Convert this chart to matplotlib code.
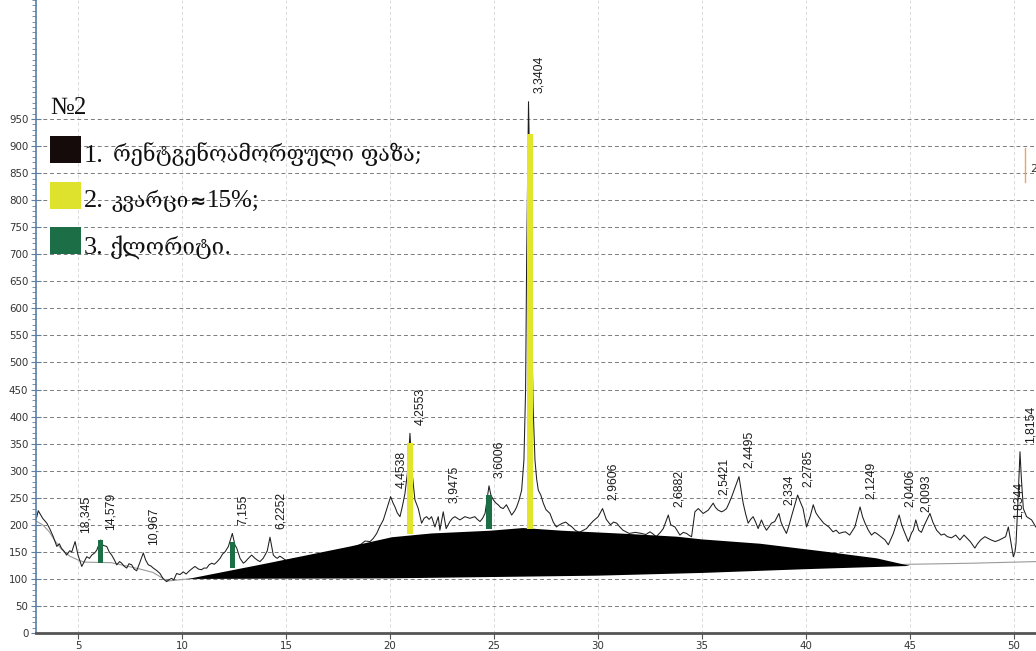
import numpy as np
import matplotlib
matplotlib.use("Agg")
import matplotlib.pyplot as plt
from matplotlib.patches import Rectangle
from matplotlib.lines import Line2D
from matplotlib.ticker import MultipleLocator

# ---------------- data ----------------
two_theta = [3.0, 3.09, 3.3, 3.5, 3.65, 3.81, 3.98, 4.1, 4.2, 4.35, 4.45, 4.6, 4.7, 4.86, 5.0, 5.18, 5.3,
             5.42, 5.55, 5.66, 5.8, 5.9, 6.09, 6.2, 6.38, 6.5, 6.62, 6.75, 6.86, 7.0, 7.1, 7.2, 7.34, 7.45,
             7.58, 7.7, 7.82, 7.95, 8.14, 8.25, 8.38, 8.5, 8.62, 8.8, 8.94, 9.1, 9.26, 9.4, 9.5, 9.6, 9.74,
             9.9, 10.06, 10.2, 10.3, 10.45, 10.62, 10.8, 10.94, 11.05, 11.19, 11.3, 11.43, 11.55, 11.67,
             11.83, 11.95, 12.07, 12.23, 12.42, 12.55, 12.63, 12.79, 12.95, 13.05, 13.19, 13.35, 13.51,
             13.65, 13.75, 13.9, 13.99, 14.1, 14.23, 14.39, 14.5, 14.58, 14.7, 14.79, 15.0, 15.4, 15.8,
             16.2, 16.6, 17.0, 17.4, 17.8, 18.2, 18.6, 18.8, 19.04, 19.2, 19.36, 19.5, 19.68, 19.85, 20.03,
             20.15, 20.24, 20.35, 20.48, 20.6, 20.72, 20.85, 20.96, 21.08, 21.2, 21.36, 21.52, 21.64, 21.76,
             21.88, 22.0, 22.16, 22.32, 22.4, 22.56, 22.7, 22.88, 23.0, 23.12, 23.36, 23.6, 23.84, 24.08,
             24.2, 24.33, 24.45, 24.57, 24.76, 24.85, 24.97, 25.1, 25.2, 25.32, 25.44, 25.6, 25.72, 25.85,
             26.0, 26.09, 26.2, 26.33, 26.44, 26.52, 26.57, 26.66, 26.72, 26.8, 26.88, 26.97, 27.05, 27.13,
             27.25, 27.37, 27.5, 27.69, 27.85, 28.0, 28.15, 28.3, 28.45, 28.6, 28.75, 28.9, 29.1, 29.3,
             29.45, 29.6, 29.77, 30.01, 30.22, 30.4, 30.6, 30.75, 30.9, 31.05, 31.2, 31.5, 31.8, 32.1, 32.3,
             32.5, 32.65, 32.8, 33.0, 33.14, 33.38, 33.5, 33.7, 33.94, 34.1, 34.26, 34.4, 34.5, 34.66, 34.82,
             34.95, 35.06, 35.18, 35.3, 35.54, 35.65, 35.78, 35.94, 36.05, 36.18, 36.3, 36.43, 36.6, 36.78,
             36.88, 36.98, 37.1, 37.22, 37.34, 37.46, 37.58, 37.7, 37.86, 37.98, 38.1, 38.22, 38.34, 38.5,
             38.7, 38.8, 38.9, 39.06, 39.18, 39.3, 39.45, 39.6, 39.73, 39.86, 39.95, 40.03, 40.2, 40.35,
             40.48, 40.6, 40.85, 41.1, 41.3, 41.45, 41.6, 41.75, 41.9, 42.1, 42.35, 42.6, 42.72, 42.84, 43.0,
             43.15, 43.3, 43.4, 43.6, 43.8, 43.96, 44.1, 44.2, 44.48, 44.6, 44.7, 44.92, 45.08, 45.16, 45.28,
             45.42, 45.55, 45.7, 45.96, 46.1, 46.28, 46.5, 46.65, 46.8, 47.0, 47.2, 47.4, 47.6, 47.75, 47.9,
             48.12, 48.25, 48.4, 48.6, 48.75, 48.9, 49.1, 49.3, 49.45, 49.6, 49.73, 49.82, 49.97, 50.05,
             50.1, 50.2, 50.29, 50.35, 50.45, 50.61, 50.85, 51.05]
intensity = [212, 226, 212, 203, 192, 178, 160, 165, 157, 150, 144, 152, 150, 169, 144, 123, 132,
             141, 138, 144, 148, 153, 172, 162, 160, 150, 144, 135, 126, 132, 129, 124, 120, 128,
             126, 118, 115, 128, 148, 135, 126, 124, 120, 115, 110, 100, 95, 99, 101, 98, 110,
             108, 113, 109, 113, 118, 123, 118, 117, 120, 120, 126, 129, 127, 131,
             138, 146, 150, 160, 184, 162, 157, 138, 129, 132, 138, 144, 138,
             134, 132, 138, 144, 152, 177, 144, 140, 138, 142, 140, 134, 137, 138,
             142, 144, 147, 150, 153, 157, 164, 170, 169, 175, 184, 196, 209, 230, 252,
             240, 233, 222, 215, 235, 258, 300, 369, 290, 246, 230, 203, 212, 215,
             210, 215, 196, 215, 190, 224, 193, 206, 212, 215, 209, 215, 212, 215,
             210, 206, 212, 221, 272, 255, 246, 240, 237, 232, 230, 237, 228, 218,
             226, 233, 245, 264, 320, 450, 690, 982, 850, 600, 420, 320, 285, 264,
             255, 240, 228, 221, 205, 196, 200, 203, 205, 200, 196, 190, 186, 190,
             193, 200, 207, 215, 230, 210, 200, 205, 203, 196, 190, 184, 186, 184, 182,
             187, 183, 178, 186, 193, 218, 200, 196, 181, 186, 184, 180, 178, 224, 230,
             225, 221, 224, 227, 240, 232, 227, 224, 226, 230, 240, 252, 270, 289,
             265, 240, 220, 203, 210, 215, 205, 193, 209, 198, 190, 196, 203, 206,
             221, 205, 196, 184, 198, 215, 235, 255, 242, 230, 212, 196, 215, 237,
             222, 215, 203, 196, 187, 190, 184, 186, 187, 181, 196, 233, 215, 203, 190,
             181, 186, 184, 178, 172, 163, 175, 184, 218, 200, 190, 169, 185, 190, 209,
             190, 186, 200, 221, 205, 190, 181, 183, 178, 176, 181, 172, 181, 175, 169,
             157, 165, 172, 178, 175, 172, 169, 172, 175, 178, 196, 175, 141, 150,
             166, 250, 335, 290, 230, 215, 209, 196]

# fitted background (thin grey line)
bg_theta = [2.98, 3.3, 3.6, 3.9, 4.2, 4.6, 5.0, 5.3, 6.6, 7.2, 8.0, 8.6, 9.3, 10.3, 45.0, 48.0, 51.06]
bg_int = [207, 200, 188, 170, 155, 142, 135, 131, 130, 125, 118, 112, 96, 100, 127, 129, 132]

# X-ray amorphous phase (black area)
amorph_top_theta = [10.3, 14.0, 18.1, 20.1, 22.0, 24.8, 26.4, 28.3, 31.5, 33.8, 35.0, 37.8, 41.0, 43.4, 45.0]
amorph_top_int = [100, 128, 160, 177, 184, 189, 194, 189, 183, 178, 173, 165, 150, 138, 124]
amorph_bot_theta = [45.0, 40.0, 35.0, 30.0, 20.0, 10.3]
amorph_bot_int = [124, 118, 111, 106, 101, 100]

# quartz (yellow) and chlorite (green) bars: position, bottom, top
quartz_theta = [20.96, 26.72]
quartz_bottom = [183, 193]
quartz_top = [351, 922]
chlorite_theta = [6.09, 12.42, 24.76]
chlorite_bottom = [130, 120, 193]
chlorite_top = [172, 168, 255]

# peak labels (d-spacings)
peak_labels = ["18,345", "14,579", "10,967", "7,155", "6,2252", "4,4538", "4,2553", "3,9475", "3,6006",
               "3,3404", "2,9606", "2,6882", "2,5421", "2,4495", "2,334", "2,2785", "2,1249", "2,0406",
               "2,0093", "1,8344", "1,8154"]
peak_theta = [4.86, 6.09, 8.14, 12.42, 14.23, 20.03, 20.96, 22.56, 24.76, 26.66, 30.22, 33.38, 35.54,
              36.78, 38.7, 39.6, 42.6, 44.48, 45.28, 49.73, 50.29]
peak_int = [169, 175, 148, 184, 177, 252, 369, 224, 272, 982, 230, 218, 240, 289, 221, 255, 233, 218,
            209, 196, 335]

y_ticks = list(range(0, 951, 50))
x_ticks = list(range(5, 51, 5))

legend_title = "№2"
legend_numbers = ["1.", "2.", "3."]
legend_names = ["რენტგენოამორფული ფაზა;", "კვარცი", "ქლორიტი."]
legend_suffix = ["", "≈15%;", ""]
legend_colors = ["#150b0b", "#dfe22c", "#1b6e45"]

# ---------------- figure ----------------
W, H = 1036, 651
fig = plt.figure(figsize=(W / 100, H / 100), dpi=100)
fig.patch.set_facecolor("white")
ax = fig.add_axes([36 / W, 18 / H, 1 - 36 / W, 1 - 18 / H])
ax.set_xlim(2.98, 51.06)
ax.set_ylim(0, 1170)

# grid
for yv in y_ticks[1:]:
    ax.axhline(yv, color="#7a7a7a", lw=0.7, ls=(0, (4, 3)), zorder=0.5)
for xv in x_ticks:
    ax.axvline(xv, color="#d4d4d4", lw=0.6, ls=(0, (4, 3)), zorder=0.4)

# background and pattern
ax.plot(bg_theta, bg_int, color="#9a9a9a", lw=0.8, zorder=1.5)
ax.plot(two_theta, intensity, color="#1e1e1e", lw=0.75, zorder=2)

# amorphous halo
poly_x = amorph_top_theta + amorph_bot_theta
poly_y = amorph_top_int + amorph_bot_int
ax.fill(poly_x, poly_y, color="black", lw=0, zorder=3)

# phase bars
qb = np.array(quartz_bottom); qt = np.array(quartz_top)
ax.bar(quartz_theta, qt - qb, bottom=qb, width=0.28, color="#e2e52a", zorder=4, lw=0)
cb = np.array(chlorite_bottom); ct = np.array(chlorite_top)
ax.bar(chlorite_theta, ct - cb, bottom=cb, width=0.26, color="#1b6e45", zorder=4, lw=0)

# peak labels
lab_font = ["Liberation Sans", "DejaVu Sans"]
for lab, tx, iy in zip(peak_labels, peak_theta, peak_int):
    ax.annotate(lab, xy=(tx, iy), xytext=(7.5, 6), textcoords="offset points",
                rotation=90, ha="center", va="bottom", fontsize=8.8, family=lab_font,
                color="#1c1c1c", zorder=5)

# axes styling
for s in ["top", "right"]:
    ax.spines[s].set_visible(False)
ax.spines["left"].set_color("#5d7fa3")
ax.spines["left"].set_linewidth(1.2)
ax.spines["bottom"].set_color("#555555")
ax.spines["bottom"].set_linewidth(2.0)
ax.set_yticks(y_ticks)
ax.set_xticks(x_ticks)
ax.yaxis.set_minor_locator(MultipleLocator(10))
ax.tick_params(axis="y", which="major", direction="inout", length=7, width=0.8, color="#5d7fa3",
               labelsize=7.4, labelcolor="#333333", pad=2)
ax.tick_params(axis="y", which="minor", direction="out", length=3, width=0.6, color="#5d7fa3")
ax.tick_params(axis="x", which="major", direction="out", length=4, width=0.8, color="#555555",
               labelsize=7.4, labelcolor="#333333", pad=2)
ax.set_facecolor("none")

# legend (drawn in figure pixels)
def fx(px):
    return px / W

def fy(py):
    return 1 - py / H

renderer = fig.canvas.get_renderer()
serif = ["Liberation Serif", "DejaVu Serif"]
geo = ["DejaVu Serif", "DejaVu Sans"]

def text_run(x_px, base_px, pieces):
    x = x_px
    for s, size, fam, weight, gap in pieces:
        x += gap
        t = fig.text(fx(x), fy(base_px), s, family=fam, fontsize=size, fontweight=weight,
                     va="baseline", ha="left", color="#111111")
        bb = t.get_window_extent(renderer=renderer)
        x += bb.width

text_run(50, 114, [(legend_title, 18, serif, "normal", 0)])
sq_tops = [136, 182, 227]
baselines = [162, 207, 254]
name_sizes = [15.5, 15.0, 16.0]
gaps = [9, 8, 6]
for i in range(3):
    fig.add_artist(Rectangle((fx(50), fy(sq_tops[i] + 27)), 31 / W, 27 / H, transform=fig.transFigure,
                             facecolor=legend_colors[i], edgecolor="none"))
    pieces = [(legend_numbers[i], 19, serif, "normal", 3),
              (legend_names[i], name_sizes[i], geo, "normal", gaps[i])]
    if legend_suffix[i]:
        pieces.append((legend_suffix[i][0], 14, ["DejaVu Sans"], "bold", 1))
        pieces.append((legend_suffix[i][1:], 18, serif, "normal", 0))
    text_run(81, baselines[i], pieces)

# cropped legend box fragment at right edge
fig.add_artist(Line2D([fx(1025), fx(1025)], [fy(148), fy(182)], transform=fig.transFigure,
                      color="#e8a860", lw=1.0))
fig.text(fx(1030), fy(172), "2", fontsize=8, color="#333333", ha="left", va="baseline")

fig.savefig("out.png", dpi=100, facecolor="white")
